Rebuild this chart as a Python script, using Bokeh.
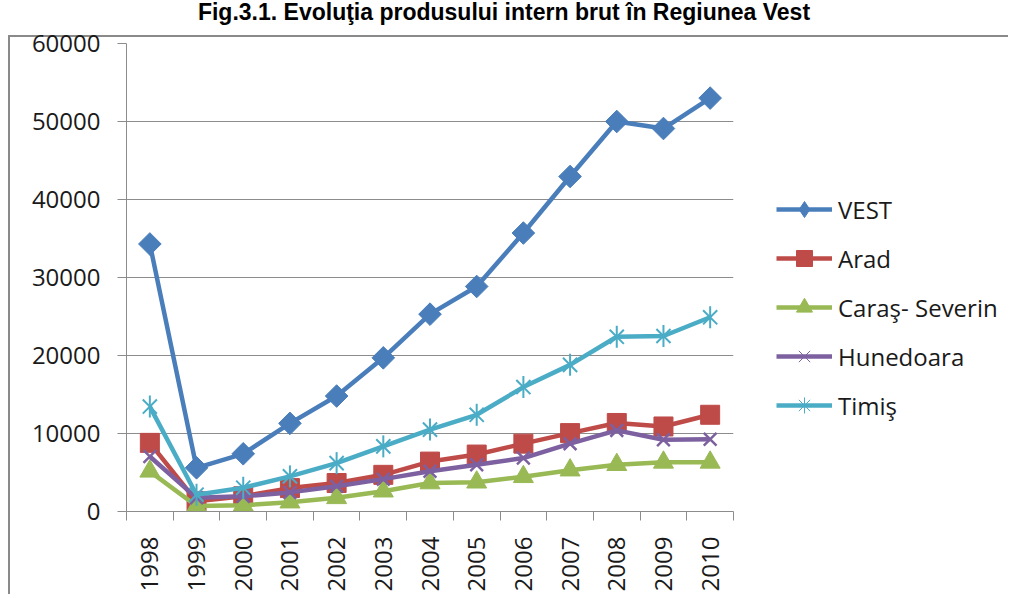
import numpy as np
from bokeh.plotting import figure
from bokeh.models import (FixedTicker, SingleIntervalTicker, CustomJSTickFormatter, Legend,
                          LegendItem, Div, BasicTickFormatter, Range1d)
from bokeh.layouts import column, row
from bokeh.embed import file_html
from bokeh.resources import INLINE

years = ["1998", "1999", "2000", "2001", "2002", "2003", "2004",
         "2005", "2006", "2007", "2008", "2009", "2010"]
vest = [34300, 5600, 7400, 11300, 14800, 19700, 25300, 28850, 35700, 42950, 50000, 49100, 53000]
arad = [8800, 1300, 1950, 3000, 3650, 4700, 6400, 7300, 8700, 10050, 11350, 10900, 12400]
caras = [5150, 700, 800, 1200, 1750, 2600, 3650, 3750, 4450, 5300, 6000, 6300, 6300]
hunedoara = [7050, 1750, 1950, 2450, 3250, 4150, 5150, 6000, 6850, 8700, 10400, 9200, 9250]
timis = [13450, 2150, 3050, 4500, 6200, 8350, 10500, 12400, 15950, 18800, 22400, 22500, 24900]
series_names = ["VEST", "Arad", "Caraş- Severin", "Hunedoara", "Timiş"]
colors = ["#4a7ebb", "#be4b48", "#98b954", "#7d60a0", "#4bacc6"]
title_text = "Fig.3.1. Evoluţia produsului intern brut în Regiunea Vest"

x = list(range(len(years)))
all_series = [vest, arad, caras, hunedoara, timis]
FONT = "Open Sans"
GRAY = "#8c8c8c"
LINE_BG = "linear-gradient(#8a8a8a,#8a8a8a)"

# ---------------- main chart ----------------
p = figure(width=730, height=568, x_range=Range1d(-0.5, len(years) - 0.5),
           y_range=Range1d(0, 60000), output_backend="svg", toolbar_location=None,
           min_border_left=118, min_border_right=5, min_border_top=17, min_border_bottom=80)
p.margin = (0, 0, 0, 8)
p.outline_line_color = None
p.border_fill_color = None
p.background_fill_color = None
p.styles = {"background": f"{LINE_BG} 0 9px / 100% 2px no-repeat, "
                          f"{LINE_BG} 0 9px / 2px 100% no-repeat, #ffffff"}

p.xgrid.visible = False
p.ygrid.grid_line_color = GRAY
p.ygrid.grid_line_width = 1

p.yaxis.ticker = SingleIntervalTicker(interval=10000)
p.yaxis.formatter = BasicTickFormatter(use_scientific=False)
p.yaxis.minor_tick_line_color = None
p.yaxis.major_tick_out = 9
p.yaxis.major_tick_in = 0
p.yaxis.major_label_standoff = 17
p.yaxis.major_tick_line_color = GRAY

p.xaxis.ticker = FixedTicker(ticks=x, minor_ticks=[i - 0.5 for i in range(len(years) + 1)])
p.xaxis.formatter = CustomJSTickFormatter(args=dict(years=years),
                                          code="return years[Math.round(tick)] || ''")
p.xaxis.major_tick_out = 0
p.xaxis.major_tick_in = 0
p.xaxis.minor_tick_out = 9
p.xaxis.minor_tick_in = 0
p.xaxis.minor_tick_line_color = GRAY
p.xaxis.major_label_orientation = np.pi / 2
p.xaxis.major_label_standoff = 16

for ax in (p.xaxis, p.yaxis):
    ax.axis_line_color = GRAY
    ax.major_label_text_font = FONT
    ax.major_label_text_font_size = "24px"
    ax.major_label_text_color = "#1a1a1a"

LW = 4.5

c = colors[0]
p.line(x, vest, line_color=c, line_width=LW)
p.scatter(x, vest, marker="square", angle=np.pi / 4, size=16, fill_color=c, line_color=c)

c = colors[1]
p.line(x, arad, line_color=c, line_width=LW)
p.scatter(x, arad, marker="square", size=19, fill_color=c, line_color=c)

c = colors[2]
p.line(x, caras, line_color=c, line_width=LW)
p.scatter(x, caras, marker="triangle", size=20, fill_color=c, line_color=c)

c = colors[3]
p.line(x, hunedoara, line_color=c, line_width=LW)
p.scatter(x, hunedoara, marker="x", size=18, line_color=c, line_width=2.5)

c = colors[4]
p.line(x, timis, line_color=c, line_width=LW)
p.scatter(x, timis, marker="x", size=20, line_color=c, line_width=2)
p.scatter(x, timis, marker="dash", angle=np.pi / 2, size=22, line_color=c, line_width=2)

# ---------------- legend panel (series re-drawn off-view, only the legend shows) ----------------
lf = figure(width=270, height=568, x_range=Range1d(0, 1), y_range=Range1d(-2, -1),
            output_backend="svg", toolbar_location=None, x_axis_type=None, y_axis_type=None,
            min_border=0, min_border_left=0, min_border_right=0, min_border_top=0,
            min_border_bottom=0)
lf.outline_line_color = None
lf.border_fill_color = None
lf.background_fill_color = None
lf.styles = {"background": f"{LINE_BG} 0 9px / 100% 2px no-repeat, #ffffff"}

legend_markers = [("diamond", True), ("square", True), ("triangle", True),
                  ("x", False), ("asterisk", False)]
items = []
for name, c, ys, (mk, filled) in zip(series_names, colors, all_series, legend_markers):
    lr = lf.line(x, ys, line_color=c, line_width=LW)
    if filled:
        mr = lf.scatter(x, ys, marker=mk, fill_color=c, line_color=c)
    else:
        mr = lf.scatter(x, ys, marker=mk, line_color=c, line_width=1)
    items.append(LegendItem(label=name, renderers=[lr, mr]))

legend = Legend(items=items, location=(38, 86), glyph_width=56, glyph_height=40,
                label_height=20, spacing=9, padding=0, margin=0, label_standoff=6,
                border_line_color=None, background_fill_alpha=0,
                label_text_font=FONT, label_text_font_size="24px", label_text_color="#1a1a1a")
lf.add_layout(legend)

title = Div(text=title_text, width=1008, height=26, margin=0,
            styles={"text-align": "center", "font-family": "Liberation Sans",
                    "font-weight": "bold", "font-size": "23px", "line-height": "24px",
                    "color": "#000000"})

layout = column(title, row(p, lf, spacing=0), spacing=0)
open("out.html", "w").write(file_html(layout, INLINE))
